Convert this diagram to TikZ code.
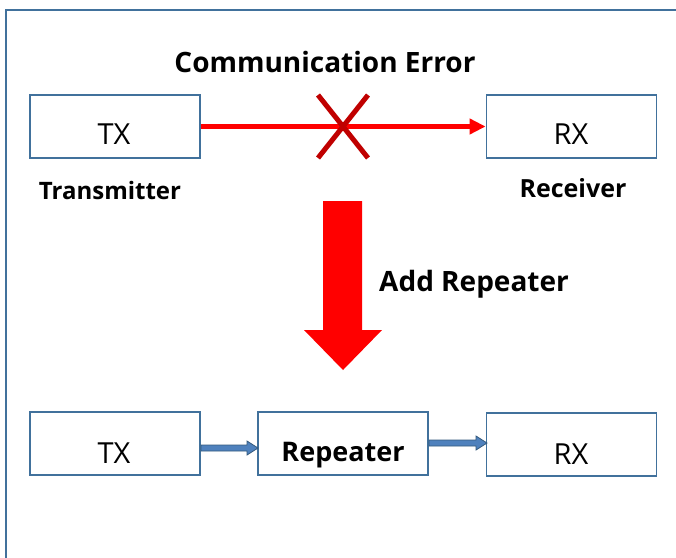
\documentclass[tikz,border=0pt]{standalone}
\usepackage{fontspec}
\setmainfont{Open Sans}
\usetikzlibrary{arrows.meta}
\definecolor{frameblue}{RGB}{65,113,156}
\definecolor{boxblue}{RGB}{65,113,156}
\definecolor{arrowblue}{RGB}{79,129,189}
\definecolor{crossred}{RGB}{192,0,0}
\tikzset{
  blk/.style={draw=boxblue, line width=1.8pt, fill=white, minimum width=170pt, minimum height=63pt, inner sep=0pt},
  inbox/.style={font=\fontsize{29}{29}\selectfont, inner sep=0pt, anchor=base},
  lbl/.style={font=\bfseries\fontsize{24}{24}\selectfont, inner sep=0pt, anchor=base},
  biglbl/.style={lbl, font=\bfseries\fontsize{28}{28}\selectfont},
  barrow/.style={draw=frameblue!80!black, fill=arrowblue, line width=0.8pt, line join=miter}
}
\begin{document}
\begin{tikzpicture}[x=1pt,y=-1pt]
\useasboundingbox (0,0) rectangle (676,557);
\begin{scope}
\clip (0,0) rectangle (676,557);
\fill[white] (0,0) rectangle (676,557);
\draw[frameblue, line width=2pt] (5.5,9.5) rectangle (700,580);
\end{scope}
% top row
\node[blk] (tx1) at (115,126.5) {};
\node[blk] (rx1) at (571.5,126.5) {};
\node[inbox] (tx1t) at (114,144) {TX};
\node[inbox] (rx1t) at (571,144) {RX};
\draw[red, line width=5pt, -{Triangle[length=16pt,width=15pt]}] (tx1.east) -- (rx1.west);
\draw[crossred, line width=5pt] (318,95) -- (368,158) (368,95) -- (318,158);
\node[biglbl] (ce) at (325,72) {Communication Error};
\node[lbl] (tr) at (110,199) {Transmitter};
\node[lbl, font=\bfseries\fontsize{25}{25}\selectfont] (re) at (573,197) {Receiver};
% big arrow
\fill[red] (323,201) -- (362,201) -- (362,330) -- (382,330) -- (343,370) -- (304,330) -- (323,330) -- cycle;
\node[biglbl, anchor=base west] (ar) at (379,291) {Add Repeater};
% bottom row
\node[blk] (tx2) at (115,443.5) {};
\node[blk] (rp) at (343,443.5) {};
\node[blk] (rx2) at (571.5,444.5) {};
\node[inbox] (tx2t) at (114,463) {TX};
\node[inbox, font=\bfseries\fontsize{27}{27}\selectfont] (rpt) at (343,461) {Repeater};
\node[inbox] (rx2t) at (571,464) {RX};
\draw[barrow] (tx2.east |- 0,445) -- (247,445) -- (247,441) -- (258,448) -- (247,455) -- (247,451) -- (tx2.east |- 0,451) -- cycle;
\draw[barrow] (rp.east |- 0,440) -- (476,440) -- (476,436) -- (487,443) -- (476,450) -- (476,446) -- (rp.east |- 0,446) -- cycle;
\end{tikzpicture}
\end{document}
